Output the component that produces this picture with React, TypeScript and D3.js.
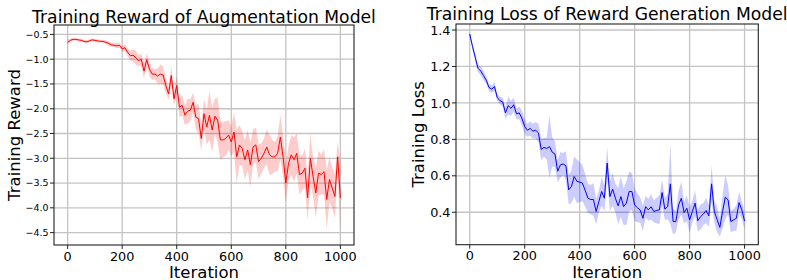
import * as d3 from 'd3';

// logged every 10 iterations
const iterations = d3.range(0, 1001, 10);

const rewardMean = [
  -0.66, -0.62, -0.60, -0.60, -0.61, -0.62, -0.64, -0.65, -0.63, -0.61,
  -0.62, -0.63, -0.64, -0.64, -0.66, -0.68, -0.71, -0.72, -0.73, -0.72,
  -0.79, -0.77, -0.86, -0.93, -0.92, -0.97, -1.03, -1.00, -1.24, -1.01,
  -1.20, -1.30, -1.30, -1.34, -1.30, -1.32, -1.53, -1.70, -1.33, -1.80,
  -1.53, -1.97, -1.93, -2.13, -2.05, -2.03, -1.87, -2.17, -2.20, -2.60,
  -2.10, -2.37, -2.13, -2.43, -2.15, -2.23, -2.63, -2.63, -2.60, -2.53,
  -2.67, -2.47, -2.97, -2.73, -2.80, -3.03, -2.83, -3.13, -2.77, -2.73,
  -3.07, -3.00, -2.90, -2.77, -2.93, -2.97, -2.97, -2.90, -2.57, -2.97,
  -3.50, -3.10, -2.93, -3.03, -2.90, -3.33, -3.30, -3.20, -3.80, -3.00,
  -3.37, -3.70, -3.30, -3.33, -3.27, -3.83, -3.43, -3.60, -3.77, -2.97,
  -3.80,
];

const rewardStd = [
  0.05, 0.04, 0.03, 0.03, 0.03, 0.03, 0.03, 0.03, 0.03, 0.03,
  0.03, 0.03, 0.03, 0.03, 0.04, 0.04, 0.04, 0.04, 0.05, 0.05,
  0.06, 0.07, 0.08, 0.10, 0.12, 0.14, 0.10, 0.12, 0.15, 0.12,
  0.15, 0.12, 0.10, 0.15, 0.20, 0.18, 0.15, 0.12, 0.20, 0.15,
  0.18, 0.20, 0.20, 0.20, 0.25, 0.22, 0.20, 0.25, 0.30, 0.25,
  0.30, 0.35, 0.50, 0.45, 0.35, 0.45, 0.40, 0.35, 0.35, 0.30,
  0.30, 0.40, 0.55, 0.40, 0.35, 0.40, 0.40, 0.45, 0.35, 0.35,
  0.35, 0.30, 0.30, 0.35, 0.40, 0.35, 0.30, 0.35, 0.45, 0.40,
  0.40, 0.35, 0.40, 0.45, 0.40, 0.40, 0.35, 0.40, 0.45, 0.50,
  0.40, 0.50, 0.45, 0.40, 0.45, 0.60, 0.45, 0.40, 0.45, 0.30,
  0.75,
];

const lossMean = [
  1.378, 1.310, 1.250, 1.190, 1.175, 1.150, 1.125, 1.085, 1.075, 1.090,
  1.030, 1.012, 1.005, 0.945, 0.985, 0.970, 0.990, 0.940, 0.945, 0.915,
  0.870, 0.850, 0.860, 0.845, 0.850, 0.835, 0.745, 0.756, 0.750, 0.760,
  0.730, 0.720, 0.625, 0.660, 0.665, 0.655, 0.523, 0.541, 0.596, 0.570,
  0.565, 0.560, 0.520, 0.477, 0.470, 0.470, 0.404, 0.459, 0.514, 0.477,
  0.670, 0.486, 0.527, 0.477, 0.435, 0.486, 0.431, 0.450, 0.514, 0.514,
  0.440, 0.425, 0.413, 0.367, 0.431, 0.413, 0.430, 0.404, 0.410, 0.413,
  0.508, 0.417, 0.431, 0.556, 0.349, 0.349, 0.440, 0.477, 0.398, 0.422,
  0.358, 0.404, 0.450, 0.354, 0.376, 0.390, 0.410, 0.380, 0.556, 0.404,
  0.360, 0.317, 0.404, 0.483, 0.468, 0.349, 0.358, 0.367, 0.453, 0.413,
  0.352,
];

const lossStd = [
  0.010, 0.015, 0.020, 0.020, 0.025, 0.025, 0.020, 0.020, 0.020, 0.025,
  0.020, 0.020, 0.025, 0.030, 0.050, 0.040, 0.040, 0.030, 0.035, 0.040,
  0.040, 0.035, 0.040, 0.040, 0.045, 0.050, 0.060, 0.050, 0.060, 0.170,
  0.080, 0.070, 0.060, 0.070, 0.060, 0.080, 0.080, 0.090, 0.110, 0.120,
  0.110, 0.100, 0.090, 0.080, 0.080, 0.090, 0.070, 0.060, 0.080, 0.070,
  0.090, 0.080, 0.090, 0.080, 0.100, 0.110, 0.100, 0.120, 0.110, 0.100,
  0.090, 0.080, 0.070, 0.070, 0.060, 0.060, 0.070, 0.060, 0.070, 0.080,
  0.070, 0.060, 0.070, 0.220, 0.070, 0.060, 0.080, 0.090, 0.060, 0.070,
  0.070, 0.060, 0.070, 0.060, 0.070, 0.060, 0.070, 0.060, 0.100, 0.060,
  0.070, 0.050, 0.090, 0.120, 0.080, 0.060, 0.060, 0.070, 0.060, 0.050,
  0.050,
];

const xTicks = [0, 200, 400, 600, 800, 1000];
const rewardTicks = [-0.5, -1.0, -1.5, -2.0, -2.5, -3.0, -3.5, -4.0, -4.5];
const lossTicks = [0.4, 0.6, 0.8, 1.0, 1.2, 1.4];

const FONT = 'DejaVu Sans, sans-serif';

const fmt = (v) => {
  const s = Math.abs(v).toFixed(1);
  return v < 0 ? '\u2212' + s : s;
};

function Panel({ box, yDomain, yTicks, mean, std, line, band, title, titleY, ylabel, ylabelX, yTickSize }) {
  const x = d3.scaleLinear().domain([-50, 1050]).range([box.left, box.right]);
  const y = d3.scaleLinear().domain(yDomain).range([box.bottom, box.top]);

  const rows = iterations.map((it, i) => ({ it, m: mean[i], s: std[i] }));

  const area = d3.area()
    .x(d => x(d.it))
    .y0(d => y(d.m - d.s))
    .y1(d => y(d.m + d.s));

  const path = d3.line()
    .x(d => x(d.it))
    .y(d => y(d.m));

  const cx = (box.left + box.right) / 2;
  const cy = (box.top + box.bottom) / 2;

  return (
    <g fontFamily={FONT}>
      {/* grid */}
      {xTicks.map(t => (
        <line key={'gx' + t} x1={x(t)} x2={x(t)} y1={box.top} y2={box.bottom} stroke="#c4c4c4" strokeWidth={1.3} />
      ))}
      {yTicks.map(t => (
        <line key={'gy' + t} x1={box.left} x2={box.right} y1={y(t)} y2={y(t)} stroke="#c4c4c4" strokeWidth={1.3} />
      ))}

      <path d={area(rows)} fill={band} stroke="none" />
      <path d={path(rows)} fill="none" stroke={line} strokeWidth={1} strokeLinejoin="round" />

      {/* frame */}
      <rect x={box.left} y={box.top} width={box.right - box.left} height={box.bottom - box.top}
        fill="none" stroke="#222" strokeWidth={1.1} />

      {/* x ticks */}
      {xTicks.map(t => (
        <g key={'tx' + t}>
          <line x1={x(t)} x2={x(t)} y1={box.bottom} y2={box.bottom + 4} stroke="#222" strokeWidth={1} />
          <text x={x(t)} y={box.bottom + 15.5} textAnchor="middle" fontSize={12.8} fill="#000">{t}</text>
        </g>
      ))}

      {/* y ticks */}
      {yTicks.map(t => (
        <g key={'ty' + t}>
          <line x1={box.left - 4} x2={box.left} y1={y(t)} y2={y(t)} stroke="#222" strokeWidth={1} />
          <text x={box.left - 5.5} y={y(t)} dy="0.36em" textAnchor="end" fontSize={yTickSize} fill="#000">{fmt(t)}</text>
        </g>
      ))}

      <text x={cx} y={titleY} textAnchor="middle" fontSize={17.2} fill="#000">{title}</text>
      <text x={cx} y={277.5} textAnchor="middle" fontSize={16.5} fill="#000">Iteration</text>
      <text transform={`translate(${ylabelX},${cy}) rotate(-90)`} textAnchor="middle" fontSize={16.5} fill="#000">{ylabel}</text>
    </g>
  );
}

export default function App() {
  return (
    <svg width={787} height={280} style={{ position: 'absolute', left: 0, top: 0, background: '#fff' }}>
      <rect width={787} height={280} fill="#fff" />
      <Panel
        box={{ left: 54, right: 354, top: 25, bottom: 245 }}
        yDomain={[-4.75, -0.31]}
        yTicks={rewardTicks}
        yTickSize={9.5}
        mean={rewardMean}
        std={rewardStd}
        line="#ff0000"
        band="rgba(255,0,0,0.2)"
        title="Training Reward of Augmentation Model"
        titleY={22.5}
        ylabel="Training Reward"
        ylabelX={19.5}
      />
      <Panel
        box={{ left: 456, right: 758.3, top: 24, bottom: 244.7 }}
        yDomain={[0.222, 1.433]}
        yTicks={lossTicks}
        yTickSize={12.8}
        mean={lossMean}
        std={lossStd}
        line="#0000ff"
        band="rgba(0,0,255,0.2)"
        title="Training Loss of Reward Generation Model"
        titleY={20}
        ylabel="Training Loss"
        ylabelX={424}
      />
    </svg>
  );
}
